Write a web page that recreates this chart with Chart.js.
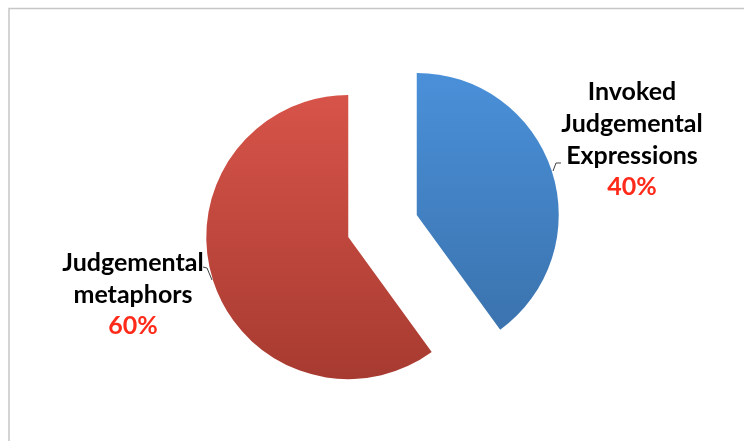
<!DOCTYPE html>
<html>
<head>
<meta charset="utf-8">
<script src="https://cdn.jsdelivr.net/npm/chart.js@4/dist/chart.umd.min.js"></script>
<style>
  html, body { margin: 0; padding: 0; background: #fff; }
  #wrap { width: 744px; height: 441px; position: relative; }
</style>
</head>
<body>
<div id="wrap"><canvas id="pieChart"></canvas></div>
<script>
// chart data
const categories = ["Invoked Judgemental Expressions", "Judgemental metaphors"];
const shares = [40, 60];
const shareLabels = ["40%", "60%"];

const topColors = ["#4b92dc", "#da554b"];
const bottomColors = ["#386ea6", "#a4392f"];

const PIE_RADIUS = 142;
const EXPLODE = 144; // chart.js moves a slice by offset / 4

// frame around the plot, like the original slide
const framePlugin = {
  id: "frame",
  beforeDraw(chart) {
    const c = chart.ctx;
    c.save();
    c.fillStyle = "#fff";
    c.fillRect(0, 0, chart.width, chart.height);
    c.strokeStyle = "#c6c6c6";
    c.lineWidth = 1.5;
    c.beginPath();
    c.moveTo(9, chart.height);
    c.lineTo(9, 8.5);
    c.lineTo(chart.width, 8.5);
    c.stroke();
    c.restore();
  }
};

// chart.js grows and narrows exploded slices; undo that so both keep the
// same radius and their straight edges stay on the true angles
const radiusFix = {
  id: "radiusFix",
  afterDatasetUpdate(chart, args) {
    const shift = EXPLODE / 4;
    args.meta.data.forEach(arc => {
      const circ = arc.circumference;
      const fix = 1 - Math.sin(Math.min(Math.PI, circ || 0));
      const grow = shift * fix;
      arc.outerRadius = PIE_RADIUS - grow;
      const delta = grow / (2 * Math.PI * PIE_RADIUS);
      arc.startAngle -= delta;
      arc.endAngle += delta;
    });
  }
};

// data labels with small leader lines
const labelPlugin = {
  id: "sliceLabels",
  afterDraw(chart) {
    const c = chart.ctx;
    c.save();
    c.textAlign = "center";
    c.textBaseline = "middle";
    c.font = "bold 25px Lato, 'Open Sans', sans-serif";

    const blocks = [
      { x: 632, y: 92, lines: ["Invoked", "Judgemental", "Expressions"], pct: shareLabels[0] },
      { x: 133, y: 263, lines: ["Judgemental", "metaphors"], pct: shareLabels[1] }
    ];
    blocks.forEach(b => {
      c.fillStyle = "#000";
      b.lines.forEach((t, i) => c.fillText(t, b.x, b.y + i * 32));
      c.fillStyle = "#ff2a1a";
      c.fillText(b.pct, b.x, b.y + b.lines.length * 32 - 1);
    });

    c.strokeStyle = "#404040";
    c.lineWidth = 1;
    c.beginPath();
    c.moveTo(553, 171);
    c.lineTo(556, 163);
    c.lineTo(561, 163);
    c.moveTo(203, 267);
    c.lineTo(207, 268);
    c.lineTo(212, 280);
    c.stroke();
    c.restore();
  }
};

function sliceGradient(context) {
  const chart = context.chart;
  const area = chart.chartArea;
  const i = context.dataIndex;
  if (!area) return topColors[i];
  const cy = (area.top + area.bottom) / 2;
  const g = chart.ctx.createLinearGradient(0, cy - 160, 0, cy + 160);
  g.addColorStop(0, topColors[i]);
  g.addColorStop(1, bottomColors[i]);
  return g;
}

new Chart(document.getElementById("pieChart"), {
  type: "pie",
  data: {
    labels: categories,
    datasets: [{
      data: shares,
      backgroundColor: sliceGradient,
      borderWidth: 0,
      offset: EXPLODE
    }]
  },
  options: {
    responsive: true,
    maintainAspectRatio: false,
    animation: false,
    radius: PIE_RADIUS,
    layout: { padding: { left: 21, right: 0, top: 11, bottom: 0 } },
    plugins: {
      legend: { display: false },
      tooltip: { enabled: false }
    }
  },
  plugins: [framePlugin, radiusFix, labelPlugin]
});
</script>
</body>
</html>
